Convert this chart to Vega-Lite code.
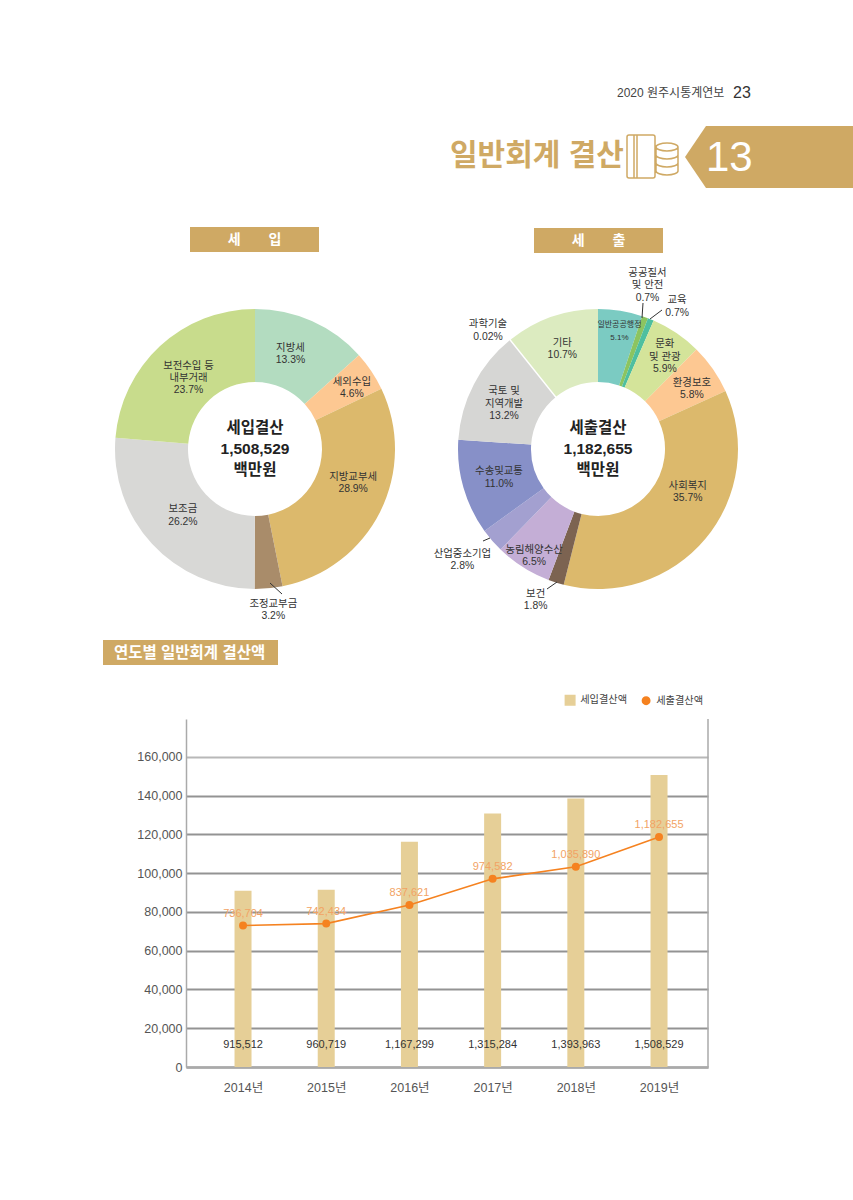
{
"$schema":"https://vega.github.io/schema/vega-lite/v6.json",
"background":"white","padding":0,"spacing":0,
"resolve":{"scale":{"color":"independent","theta":"independent"}},
"config":{"view":{"stroke":null},"font":"Liberation Sans, Noto Sans CJK KR","text":{"font":"Liberation Sans, Noto Sans CJK KR"}},
"datasets":{
"revenue":[
{"order":1,"name":"지방세","share":13.3,"label":"지방세\n13.3%"},
{"order":2,"name":"세외수입","share":4.6,"label":"세외수입\n4.6%"},
{"order":3,"name":"지방교부세","share":28.9,"label":"지방교부세\n28.9%"},
{"order":4,"name":"조정교부금","share":3.2,"label":"조정교부금\n3.2%"},
{"order":5,"name":"보조금","share":26.2,"label":"보조금\n26.2%"},
{"order":6,"name":"보전수입 등 내부거래","share":23.7,"label":"보전수입 등\n내부거래\n23.7%"}],
"spending":[
{"order":1,"name":"일반공공행정","share":5.1,"label":"일반공공행정\n5.1%"},
{"order":2,"name":"공공질서 및 안전","share":0.7,"label":"공공질서\n및 안전\n0.7%"},
{"order":3,"name":"교육","share":0.7,"label":"교육\n0.7%"},
{"order":4,"name":"문화 및 관광","share":5.9,"label":"문화\n및 관광\n5.9%"},
{"order":5,"name":"환경보호","share":5.8,"label":"환경보호\n5.8%"},
{"order":6,"name":"사회복지","share":35.7,"label":"사회복지\n35.7%"},
{"order":7,"name":"보건","share":1.8,"label":"보건\n1.8%"},
{"order":8,"name":"농림해양수산","share":6.5,"label":"농림해양수산\n6.5%"},
{"order":9,"name":"산업중소기업","share":2.8,"label":"산업중소기업\n2.8%"},
{"order":10,"name":"수송및교통","share":11.0,"label":"수송및교통\n11.0%"},
{"order":11,"name":"국토 및 지역개발","share":13.2,"label":"국토 및\n지역개발\n13.2%"},
{"order":12,"name":"과학기술","share":0.02,"label":"과학기술\n0.02%"},
{"order":13,"name":"기타","share":10.7,"label":"기타\n10.7%"}],
"yearly":[
{"year":"2014년","series":"세입결산액","amount":915512,"plotted":910000},
{"year":"2015년","series":"세입결산액","amount":960719,"plotted":915000},
{"year":"2016년","series":"세입결산액","amount":1167299,"plotted":1162000},
{"year":"2017년","series":"세입결산액","amount":1315284,"plotted":1308000},
{"year":"2018년","series":"세입결산액","amount":1393963,"plotted":1386000},
{"year":"2019년","series":"세입결산액","amount":1508529,"plotted":1507000},
{"year":"2014년","series":"세출결산액","amount":736704,"plotted":730000},
{"year":"2015년","series":"세출결산액","amount":742434,"plotted":740000},
{"year":"2016년","series":"세출결산액","amount":837621,"plotted":836000},
{"year":"2017년","series":"세출결산액","amount":974582,"plotted":971000},
{"year":"2018년","series":"세출결산액","amount":1035890,"plotted":1033000},
{"year":"2019년","series":"세출결산액","amount":1182655,"plotted":1187000}]
},
"vconcat":[
{"width":853,"height":225,"data":{"values":[{"page":1}]},
"layer":[
{"mark":{"type":"text","x":617,"y":93,"align":"left","baseline":"middle","fontSize":12,"color":"#444","text":"2020 원주시통계연보"},"encoding":{}},
{"mark":{"type":"text","x":733,"y":93,"align":"left","baseline":"middle","fontSize":16,"color":"#333","text":"23"},"encoding":{}},
{"mark":{"type":"text","x":450,"y":156,"align":"left","baseline":"middle","fontSize":30,"fontWeight":"bold","color":"#cfa964","text":"일반회계 결산"},"encoding":{}},
{"mark":{"type":"point","x":653,"y":157,"size":4,"filled":false,"stroke":"#cfa964","strokeWidth":1.5,"opacity":1,"shape":"M-24 -22 L0 -22 Q2 -22 2 -20 L2 19 Q2 21 0 21 L-24 21 Q-26 21 -26 19 L-26 -20 Q-26 -22 -24 -22 Z M-19 -22 L-19 21 M-16 -22 L-16 21 M3 -10 a11 4 0 1 0 22 0 a11 4 0 1 0 -22 0 M3 -10 L3 14 M25 -10 L25 14 M3 -2 a11 4 0 0 0 22 0 M3 6 a11 4 0 0 0 22 0 M3 14 a11 4 0 0 0 22 0"},"encoding":{}},
{"mark":{"type":"point","x":769,"y":157,"size":4,"filled":true,"fill":"#cfa964","opacity":1,"shape":"M-84 0 L-63 -31 L84 -31 L84 31 L-63 31 Z"},"encoding":{}},
{"mark":{"type":"text","x":706,"y":158,"align":"left","baseline":"middle","fontSize":42,"color":"white","text":"13"},"encoding":{}}
]},
{"hconcat":[
{"width":85,"height":448,"data":{"values":[{"gap":1}]},"mark":{"type":"text","text":""},"encoding":{}},
{"width":340,"height":448,"layer":[
{"data":{"name":"revenue"},"encoding":{"theta":{"field":"share","type":"quantitative","stack":true},"order":{"field":"order"},"detail":{"field":"name"}},
"layer":[
{"mark":{"type":"arc","innerRadius":67,"outerRadius":140},
"encoding":{"color":{"field":"name","type":"nominal","legend":null,"scale":{"domain":["지방세","세외수입","지방교부세","조정교부금","보조금","보전수입 등 내부거래"],"range":["#b3dcc0","#fdc892","#dcb96c","#a98c6a","#d8d8d6","#c8dc8c"]}}}},
{"mark":{"type":"text","fontSize":10.4,"lineHeight":12.4,"lineBreak":"\n","color":"#333","baseline":"middle",
"dx":{"expr":"({'지방세':-6,'세외수입':3,'지방교부세':6,'조정교부금':3})[datum.name]||0"},
"dy":{"expr":"(({'지방세':-2,'세외수입':2,'지방교부세':-12,'조정교부금':5,'보전수입 등 내부거래':1})[datum.name]||0)-(length(split(datum.label,'\\n'))-1)*6.2"},
"radius":{"expr":"({'지방세':102,'세외수입':113,'지방교부세':103,'조정교부금':157,'보조금':98,'보전수입 등 내부거래':98})[datum.name]"}},
"encoding":{"text":{"field":"label"}}}
]},
{"data":{"values":[{"leader":"조정교부금"}]},"mark":{"type":"rule","color":"#333","strokeWidth":1},"encoding":{"x":{"value":185},"y":{"value":358},"x2":{"value":197},"y2":{"value":369}}},
{"data":{"values":[{"center":"세입결산\n1,508,529\n백만원"}]},"mark":{"type":"text","fontSize":15.5,"fontWeight":"bold","lineHeight":21,"lineBreak":"\n","color":"#222","baseline":"middle","dy":-21},"encoding":{"text":{"field":"center"}}},
{"data":{"values":[{"bar":1}]},"mark":{"type":"rect","x":105,"x2":234,"y":2,"y2":27,"fill":"#cfa964"},"encoding":{}},
{"data":{"values":[{"bar":1}]},"mark":{"type":"text","x":169.5,"y":14.5,"fontSize":14,"fontWeight":"bold","color":"white","baseline":"middle","text":"세　　입"},"encoding":{}},
{"data":{"values":[{"bar":1}]},"mark":{"type":"rect","x":18,"x2":193,"y":415,"y2":440,"fill":"#cfa964"},"encoding":{}},
{"data":{"values":[{"bar":1}]},"mark":{"type":"text","x":29,"y":428,"align":"left","fontSize":15.5,"fontWeight":"bold","color":"white","baseline":"middle","text":"연도별 일반회계 결산액"},"encoding":{}}
]},
{"width":3,"height":448,"data":{"values":[{"gap":1}]},"mark":{"type":"text","text":""},"encoding":{}},
{"width":340,"height":448,"layer":[
{"data":{"name":"spending"},"encoding":{"theta":{"field":"share","type":"quantitative","stack":true},"order":{"field":"order"},"detail":{"field":"name"}},
"layer":[
{"mark":{"type":"arc","innerRadius":67,"outerRadius":140,"strokeWidth":2.5},
"encoding":{"color":{"field":"name","type":"nominal","legend":null,"scale":{"domain":["일반공공행정","공공질서 및 안전","교육","문화 및 관광","환경보호","사회복지","보건","농림해양수산","산업중소기업","수송및교통","국토 및 지역개발","과학기술","기타"],"range":["#7bcbc2","#8cc460","#4fbf9f","#d4e49a","#fdc892","#dcb96c","#7c6351","#c4aed6","#a3a0d0","#8790c8","#d6d6d4","#ffffff","#dcebc0"]}},
"stroke":{"condition":{"test":"datum.name==='과학기술'","value":"white"},"value":"transparent"}}},
{"mark":{"type":"text","lineHeight":12.4,"lineBreak":"\n","baseline":"middle",
"fontSize":{"expr":"datum.name==='일반공공행정'?8:10.4"},
"color":"#333",
"radius":{"expr":"({'일반공공행정':122,'공공질서 및 안전':174,'교육':154,'문화 및 관광':114,'환경보호':112,'사회복지':100,'보건':158,'농림해양수산':123,'산업중소기업':174,'수송및교통':103,'국토 및 지역개발':106,'과학기술':154,'기타':108})[datum.name]"},
"dx":{"expr":"({'일반공공행정':2,'공공질서 및 안전':-9,'교육':21,'문화 및 관광':3,'환경보호':2,'사회복지':13,'보건':-15,'농림해양수산':2,'산업중소기업':-4,'과학기술':-14})[datum.name]||0"},
"dy":{"expr":"(({'일반공공행정':3,'문화 및 관광':2,'환경보호':4,'사회복지':-21,'농림해양수산':3,'산업중소기업':-3,'국토 및 지역개발':4,'과학기술':2,'기타':2})[datum.name]||0)-(length(split(datum.label,'\\n'))-1)*6.2"}},
"encoding":{"text":{"field":"label"}}}
]},
{"data":{"values":[{"leader":"공공질서"}]},"mark":{"type":"rule","color":"#333","strokeWidth":1},"encoding":{"x":{"value":215},"y":{"value":78},"x2":{"value":214},"y2":{"value":93}}},
{"data":{"values":[{"leader":"교육"}]},"mark":{"type":"rule","color":"#333","strokeWidth":1},"encoding":{"x":{"value":234},"y":{"value":85},"x2":{"value":222},"y2":{"value":94}}},
{"data":{"values":[{"leader":"산업"}]},"mark":{"type":"rule","color":"#333","strokeWidth":1},"encoding":{"x":{"value":55},"y":{"value":316},"x2":{"value":62},"y2":{"value":313}}},
{"data":{"values":[{"leader":"보건"}]},"mark":{"type":"rule","color":"#333","strokeWidth":1},"encoding":{"x":{"value":119},"y":{"value":364},"x2":{"value":129},"y2":{"value":357}}},
{"data":{"values":[{"center":"세출결산\n1,182,655\n백만원"}]},"mark":{"type":"text","fontSize":15.5,"fontWeight":"bold","lineHeight":21,"lineBreak":"\n","color":"#222","baseline":"middle","dy":-21},"encoding":{"text":{"field":"center"}}},
{"data":{"values":[{"bar":1}]},"mark":{"type":"rect","x":106,"x2":235,"y":3,"y2":28,"fill":"#cfa964"},"encoding":{}},
{"data":{"values":[{"bar":1}]},"mark":{"type":"text","x":170.5,"y":15.5,"fontSize":14,"fontWeight":"bold","color":"white","baseline":"middle","text":"세　　출"},"encoding":{}}
]}
],"spacing":0,"bounds":"flush","resolve":{"scale":{"color":"independent","theta":"independent"}}},
{"width":853,"height":22,"data":{"values":[{"gap":1}]},"mark":{"type":"text","text":""},"encoding":{}},
{"hconcat":[
{"width":186,"height":348,"data":{"values":[{"gap":1}]},"mark":{"type":"text","text":""},"encoding":{}},
{"width":522,"height":348,"data":{"name":"yearly"},
"encoding":{"x":{"field":"year","type":"nominal","title":null,"scale":{"type":"point","padding":0.637,"align":0.538},
"axis":{"labelAngle":0,"ticks":false,"domainColor":"#aaa","domainWidth":2.5,"labelFontSize":12.5,"labelColor":"#555","labelPadding":14,"labelFont":"Liberation Sans, Noto Sans CJK KR"}},
"y":{"field":"plotted","type":"quantitative","title":null,"scale":{"domain":[0,1796000],"nice":false},
"axis":{"values":[0,200000,400000,600000,800000,1000000,1200000,1400000,1600000],"labelExpr":"format(datum.value/10,',')","ticks":false,"labelFontSize":12.5,"labelColor":"#555","labelPadding":4,"domainColor":"#aaa","domainWidth":1.5,"grid":true,"gridWidth":2,"gridColor":{"condition":{"test":"datum.value===1600000","value":"#b8b8b8"},"value":"#939393"},"labelFont":"Liberation Sans, Noto Sans CJK KR"}}},
"layer":[
{"transform":[{"filter":"datum.series==='세입결산액'"}],"mark":{"type":"bar","size":17},
"encoding":{"color":{"field":"series","type":"nominal","scale":{"domain":["세입결산액","세출결산액"],"range":["#e6cf97","#f58220"]},
"legend":{"title":null,"orient":"none","legendX":565,"legendY":-24,"direction":"horizontal","symbolSize":100,"labelFontSize":10.2,"labelColor":"#444","columnPadding":11,"labelOffset":5,"labelFont":"Liberation Sans, Noto Sans CJK KR",
"encode":{"symbols":{"update":{"shape":{"signal":"datum.value==='세입결산액'?'square':'circle'"},"size":{"signal":"datum.value==='세입결산액'?90:55"},"fill":{"signal":"datum.value==='세입결산액'?'#d1ad68':'#f58220'"},"stroke":{"value":"transparent"},"opacity":{"value":1}}}}}}}},
{"data":{"values":[{"edge":"right"}]},"mark":{"type":"rule","color":"#aaa","strokeWidth":1.5},"encoding":{"x":{"value":522},"y":{"value":0},"y2":{"value":348}}},
{"transform":[{"filter":"datum.series==='세출결산액'"}],"mark":{"type":"line","strokeWidth":1.6},"encoding":{"color":{"field":"series","type":"nominal"}}},
{"transform":[{"filter":"datum.series==='세출결산액'"}],"mark":{"type":"point","filled":true,"size":64,"opacity":1},"encoding":{"color":{"field":"series","type":"nominal"}}},
{"transform":[{"filter":"datum.series==='세출결산액'"}],"mark":{"type":"text","dy":-12,"fontSize":11,"color":"#f2a364"},"encoding":{"text":{"field":"amount","format":","}}},
{"transform":[{"filter":"datum.series==='세입결산액'"}],"mark":{"type":"text","fontSize":11,"color":"#333"},"encoding":{"y":{"datum":114000},"text":{"field":"amount","format":","}}}
]}
],"spacing":0,"bounds":"flush"}
]
}
